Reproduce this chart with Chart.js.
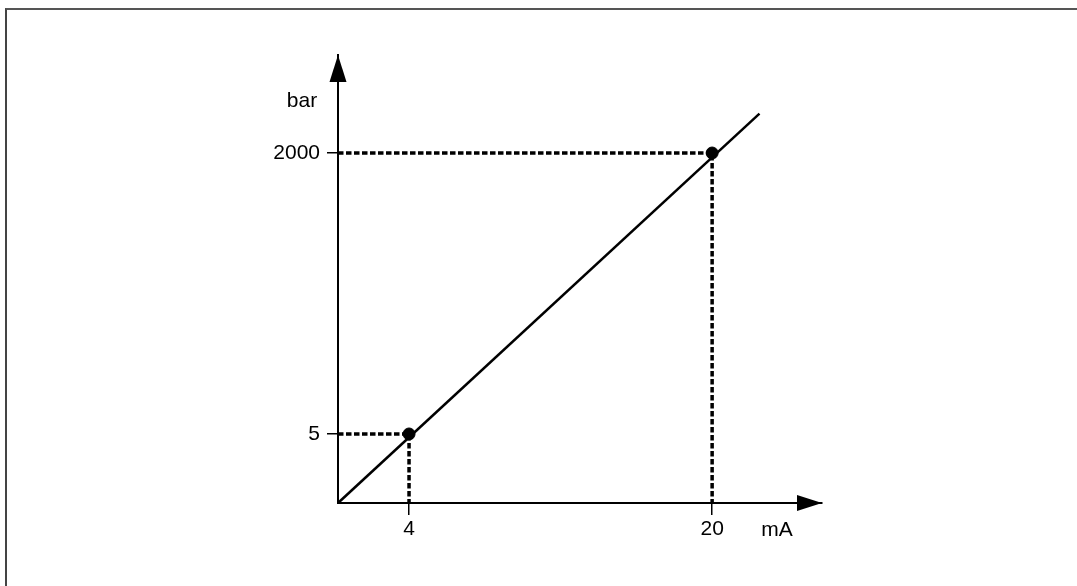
<!DOCTYPE html>
<html>
<head>
<meta charset="utf-8">
<title>mA to bar</title>
<script src="https://cdn.jsdelivr.net/npm/chart.js@4/dist/chart.umd.min.js"></script>
<style>
    body { margin: 0; background: #fff; overflow: hidden; }
    .frame {
        position: absolute; left: 5px; top: 8px; right: -10px; bottom: -10px;
        border-top: 2px solid #555; border-left: 2px solid #444;
    }
    canvas { position: absolute; left: 0; top: 0; }
</style>
</head>
<body>
<div class="frame"></div>
<canvas id="myChart" width="1077" height="586"></canvas>
<script>
// Signal range (mA) and pressure (bar) shown on the axes
let xTicks = [4, 20];
let yTicks = [5, 2000];

// Calibration points
let pointMa = [4, 20];
let pointBar = [5, 2000];

// The straight transfer line, from the axis origin to its end
let lineMa = [0.25, 22.5];
let lineBar = [-485, 2280];

// Axis ranges (the origin sits at the min values)
let xMin = 0.25, xMax = 25.8;
let yMin = -485, yMax = 2696;

let font = { family: "'Liberation Sans', Arial, sans-serif", size: 21 };

let toXY = (xs, ys) => xs.map((x, i) => ({ x: x, y: ys[i] }));

// Dashed guide from the y axis to a point and down to the x axis
let guide = (i) => [
    { x: xMin, y: pointBar[i] },
    { x: pointMa[i], y: pointBar[i] },
    { x: pointMa[i], y: yMin }
];

let dashed = (data) => ({
    data: data,
    showLine: true,
    borderColor: "#000",
    borderWidth: 3.5,
    borderDash: [5.5, 2.5],
    pointRadius: 0,
    clip: false
});

// Arrow heads and axis names
let axisDecor = {
    id: "axisDecor",
    afterDraw: (chart) => {
        let ctx = chart.ctx;
        let area = chart.chartArea;
        ctx.save();
        ctx.fillStyle = "#000";

        // y arrow
        ctx.beginPath();
        ctx.moveTo(area.left, area.top);
        ctx.lineTo(area.left - 8.5, area.top + 27);
        ctx.lineTo(area.left + 8.5, area.top + 27);
        ctx.closePath();
        ctx.fill();

        // x arrow
        ctx.beginPath();
        ctx.moveTo(area.right, area.bottom);
        ctx.lineTo(area.right - 25, area.bottom - 8);
        ctx.lineTo(area.right - 25, area.bottom + 8);
        ctx.closePath();
        ctx.fill();

        ctx.font = font.size + "px " + font.family;
        ctx.textAlign = "center";
        ctx.textBaseline = "middle";
        ctx.fillText("bar", area.left - 36, area.top + 46);
        ctx.fillText("mA", area.right - 45, area.bottom + 27);
        ctx.restore();
    }
};

let displayChart = () => {
    const ctx = document.getElementById("myChart").getContext("2d");
    new Chart(ctx, {
        type: "scatter",
        data: {
            datasets: [
                {
                    data: toXY(lineMa, lineBar),
                    showLine: true,
                    borderColor: "#000",
                    borderWidth: 2.5,
                    pointRadius: 0,
                    clip: false
                },
                dashed(guide(0)),
                dashed(guide(1)),
                {
                    data: toXY(pointMa, pointBar),
                    backgroundColor: "#000",
                    borderColor: "#000",
                    pointRadius: 6,
                    clip: false
                }
            ]
        },
        options: {
            responsive: false,
            animation: false,
            layout: { padding: { left: 238, right: 255, top: 55, bottom: 43 } },
            plugins: { legend: { display: false }, tooltip: { enabled: false } },
            scales: {
                x: {
                    type: "linear",
                    min: xMin,
                    max: xMax,
                    afterFit: (s) => { s.height = 40; },
                    afterBuildTicks: (s) => { s.ticks = xTicks.map((v) => ({ value: v })); },
                    grid: { drawOnChartArea: false, tickLength: 12, color: "#000", lineWidth: 1.5 },
                    border: { color: "#000", width: 2 },
                    ticks: { font: font, color: "#000", padding: 2, callback: (v) => String(v) }
                },
                y: {
                    type: "linear",
                    min: yMin,
                    max: yMax,
                    afterFit: (s) => { s.width = 100; },
                    afterBuildTicks: (s) => { s.ticks = yTicks.map((v) => ({ value: v })); },
                    grid: { drawOnChartArea: false, tickLength: 11, color: "#000", lineWidth: 1.5 },
                    border: { color: "#000", width: 2 },
                    ticks: { font: font, color: "#000", padding: 7, callback: (v) => String(v) }
                }
            }
        },
        plugins: [axisDecor]
    });
};

displayChart();
</script>
</body>
</html>
